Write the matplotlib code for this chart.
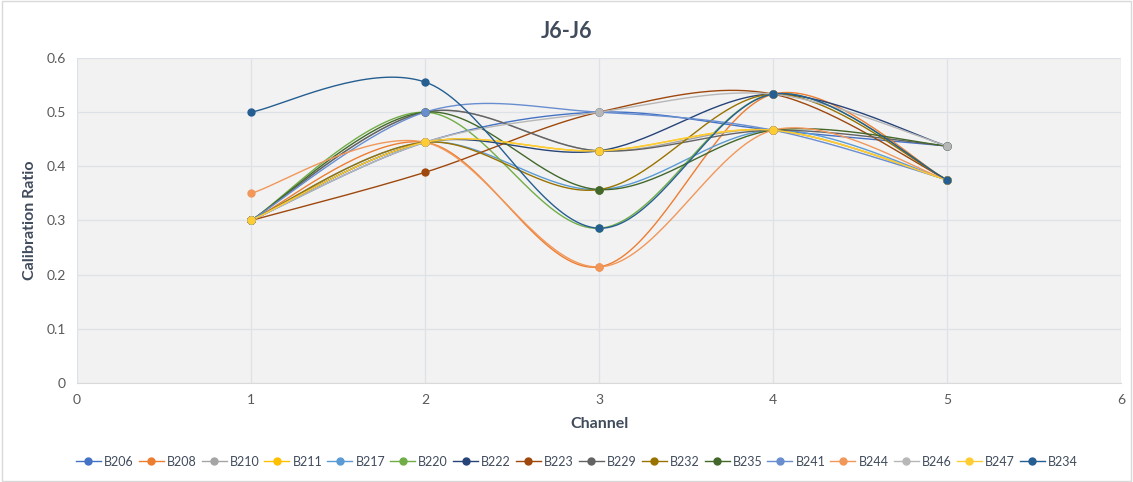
import numpy as np
import matplotlib as mpl

mpl.use("Agg")
import matplotlib.pyplot as plt

plt.rcParams["font.family"] = ["Lato", "DejaVu Sans"]

channels = [1, 2, 3, 4, 5]
boards = ["B206", "B208", "B210", "B211", "B217", "B220", "B222", "B223",
          "B229", "B232", "B235", "B241", "B244", "B246", "B247", "B234"]

B206 = [0.3, 0.4444, 0.5, 0.4667, 0.4375]
B208 = [0.3, 0.4444, 0.2143, 0.5333, 0.375]
B210 = [0.3, 0.5, 0.4286, 0.4667, 0.375]
B211 = [0.3, 0.4444, 0.4286, 0.4667, 0.375]
B217 = [0.3, 0.4444, 0.3571, 0.4667, 0.375]
B220 = [0.3, 0.5, 0.2857, 0.5333, 0.375]
B222 = [0.3, 0.4444, 0.4286, 0.5333, 0.4375]
B223 = [0.3, 0.3889, 0.5, 0.5333, 0.375]
B229 = [0.3, 0.5, 0.4286, 0.4667, 0.4375]
B232 = [0.3, 0.4444, 0.3571, 0.5333, 0.375]
B235 = [0.3, 0.5, 0.3571, 0.4667, 0.4375]
B241 = [0.3, 0.5, 0.5, 0.4667, 0.375]
B244 = [0.35, 0.4444, 0.2143, 0.4667, 0.375]
B246 = [0.3, 0.4444, 0.5, 0.5333, 0.4375]
B247 = [0.3, 0.4444, 0.4286, 0.4667, 0.375]
B234 = [0.5, 0.5556, 0.2857, 0.5333, 0.375]

series = [B206, B208, B210, B211, B217, B220, B222, B223,
          B229, B232, B235, B241, B244, B246, B247, B234]

colors = ["#4472C4", "#ED7D31", "#A5A5A5", "#FFC000", "#5B9BD5", "#70AD47",
          "#264478", "#9E480E", "#636363", "#997300", "#43682B", "#698ED0",
          "#F1975A", "#B7B7B7", "#FFCD33", "#255E91"]


def smooth(x, y, n=40):
    # excel-like smoothed line (catmull-rom bezier)
    p = np.column_stack([x, y]).astype(float)
    out = []
    for i in range(len(p) - 1):
        p0 = p[i - 1] if i > 0 else p[i]
        p3 = p[i + 2] if i + 2 < len(p) else p[i + 1]
        c1 = p[i] + (p[i + 1] - p0) / 6
        c2 = p[i + 1] - (p3 - p[i]) / 6
        t = np.linspace(0, 1, n)[:, None]
        seg = ((1 - t) ** 3 * p[i] + 3 * (1 - t) ** 2 * t * c1
               + 3 * (1 - t) * t ** 2 * c2 + t ** 3 * p[i + 1])
        out.append(seg if i == 0 else seg[1:])
    out = np.vstack(out)
    return out[:, 0], out[:, 1]


fig = plt.figure(figsize=(11.33, 4.82), dpi=100)
ax = fig.add_axes([0.068, 0.2054, 0.9214, 0.6743])
ax.set_facecolor("#F2F2F2")

handles = []
for name, vals, col in zip(boards, series, colors):
    sx, sy = smooth(channels, vals)
    ax.plot(sx, sy, color=col, lw=1.0, zorder=2)
    ax.plot(channels, vals, "o", color=col, ms=5, zorder=3)
    h, = ax.plot([], [], "-o", color=col, lw=1.0, ms=5, label=name)
    handles.append(h)

ax.set_xlim(0, 6)
ax.set_ylim(0, 0.6)
ax.set_xticks(range(0, 7))
ax.set_yticks(np.arange(0, 0.61, 0.1))
ax.set_yticklabels(["0", "0.1", "0.2", "0.3", "0.4", "0.5", "0.6"])
ax.grid(True, color="#DDE1E8", lw=0.9)
ax.set_axisbelow(True)
for s in ax.spines.values():
    s.set_visible(False)
ax.spines["bottom"].set_visible(True)
ax.spines["bottom"].set_color("#D9D9D9")
ax.tick_params(length=0, labelsize=10, colors="#595959", pad=8)

ax.set_xlabel("Channel", fontsize=11.5, fontweight="bold", color="#404B5C", labelpad=8)
ax.set_ylabel("Calibration Ratio", fontsize=11.5, fontweight="bold", color="#404B5C", labelpad=7)
fig.text(0.5, 0.935, "J6-J6", ha="center", va="center", fontsize=15.5,
         fontweight="bold", color="#404B5C")

fig.legend(handles=handles, loc="center", bbox_to_anchor=(0.509, 0.042), ncol=16,
           frameon=False, fontsize=9, handlelength=2.0, columnspacing=0.4,
           handletextpad=0.25, labelcolor="#404B5C", borderpad=0.2)

fig.patches.append(plt.Rectangle((0.002, 0.003), 0.996, 0.994, transform=fig.transFigure,
                                 fill=False, edgecolor="#D9D9D9", lw=1))

fig.savefig("out.png", dpi=100)
plt.close()
